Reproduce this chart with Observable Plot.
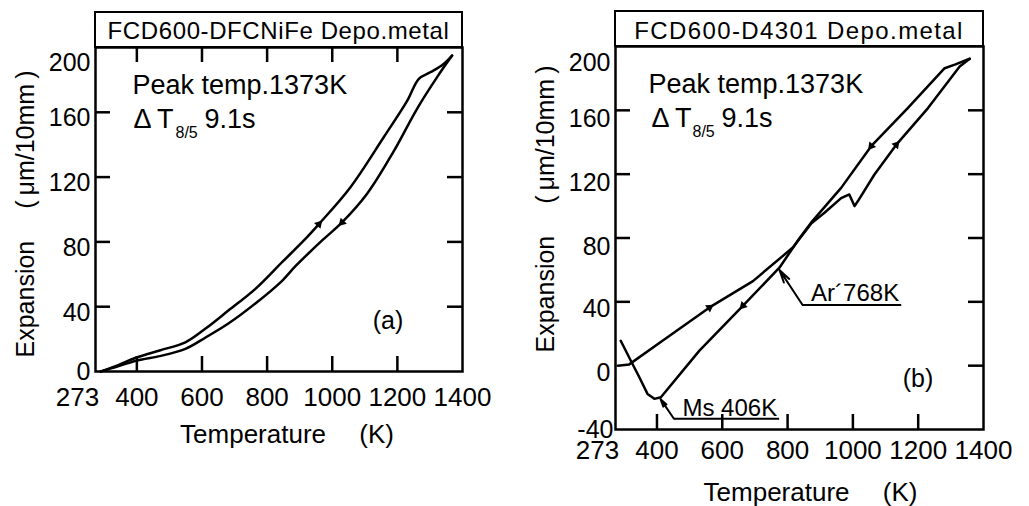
<!DOCTYPE html>
<html><head><meta charset="utf-8">
<script src="https://cdn.jsdelivr.net/npm/d3@7"></script>
<script src="https://cdn.jsdelivr.net/npm/@observablehq/plot@0.6"></script>
<style>
body{margin:0;background:#fff;width:1029px;height:506px;position:relative;overflow:hidden;font-family:"Liberation Sans",Arial,Helvetica,sans-serif;color:#000;}
.panel{position:absolute;top:0;height:506px;}
.title{position:absolute;box-sizing:border-box;border:2.5px solid #000;text-align:center;font-size:24px;white-space:nowrap;overflow:visible;}
.chart{position:absolute;left:0;}
</style></head><body>
<div id="pa" class="panel" style="left:0;width:515px;">
  <div id="ta" class="title" style="left:94px;top:11px;width:369px;height:37px;line-height:36px;letter-spacing:0.6px;"></div>
  <div id="ca" class="chart" style="top:45px;"></div>
</div>
<div id="pb" class="panel" style="left:520px;width:509px;">
  <div id="tb" class="title" style="left:94px;top:10px;width:370px;height:37px;line-height:38px;letter-spacing:1.4px;"></div>
  <div id="cb" class="chart" style="top:44px;"></div>
</div>
<script>
// ---------- data ----------
const titleA = "FCD600-DFCNiFe Depo.metal";
const titleB = "FCD600-D4301 Depo.metal";
const xTitle = "Temperature\u2003 (K)";
const yTitle = "Expansion\u2003 (\u2009\u03bcm/10mm\u2009)";
const peakText = "Peak temp.1373K";
const deltaText = "\u0394\u2009T";
const subText = "8/5";
const timeText = "9.1s";
const panelTagA = "(a)";
const panelTagB = "(b)";

const xTickLabels = [273, 400, 600, 800, 1000, 1200, 1400];
const xInnerTicks = [400, 600, 800, 1000, 1200];
const yTickLabelsA = [0, 40, 80, 120, 160, 200];
const yTickLabelsB = [-40, 0, 40, 80, 120, 160, 200];
const yInnerTicksA = [40, 80, 120, 160];
const yInnerTicksBLeft = [40, 80, 120, 160];
const yInnerTicksBRight = [0, 40, 80, 120, 160];

// (a) FCD600-DFCNiFe
const aUpperT = [290, 330, 401, 470, 549, 611, 681, 764, 846, 913, 959, 1056, 1158, 1230, 1266, 1301, 1340, 1368];
const aUpperE = [0, 3, 8.8, 13, 18, 26.5, 37.6, 51, 67.5, 80.9, 91, 113.8, 144.6, 167, 180.7, 184.7, 189.5, 195];
const aLowerT = [290, 330, 401, 470, 549, 611, 681, 764, 846, 887, 969, 1030, 1107, 1189, 1260, 1322, 1368];
const aLowerE = [0, 2.5, 6.8, 9.5, 14, 21, 29.6, 42, 56, 65, 80.9, 92, 109.7, 136, 162, 181.7, 195];
const aMarkT = [959, 1030];
const aMarkE = [91, 92];

// (b) FCD600-D4301
const bHeatT = [280, 315, 417, 561, 694, 816, 872, 913, 964, 989, 1005, 1015, 1066, 1133, 1230, 1327, 1358];
const bHeatE = [0, 0.8, 15.6, 36.5, 53, 74, 89, 95.8, 105, 107.3, 100, 103, 119.8, 138.5, 161.4, 187.5, 192.3];
const bCoolT = [1358, 1312, 1281, 1168, 1056, 964, 872, 837, 775, 663, 530, 412, 392, 371, 346, 320, 289];
const bCoolE = [192.3, 188.6, 186.4, 161.4, 137.5, 111.4, 89.6, 80, 61.4, 37.5, 9.4, -19.8, -20.8, -17.7, -7.3, 3.1, 15.6];
const bMarkT = [561, 1133, 663, 1056];
const bMarkE = [36.5, 138.5, 37.5, 137.5];

// annotations (b)
const arText = "Ar\u00b4768K";
const arTip = [775, 60];
const arElbow = [846, 38];
const arEnd = [1148, 38];
const arLabel = [872, 40.5];
const msText = "Ms 406K";
const msTip = [411, -21];
const msElbow = [452, -33.3];
const msEnd = [774, -33.3];
const msLabel = [478, -31.3];

// ---------- helpers ----------
const FONT = '"Liberation Sans", Arial, Helvetica, sans-serif';
const pts = (T, E) => T.map((t, i) => ({T: t, E: E[i]}));
const fmt = d => String(d);
const SW = 2.5, TICK = 15;

document.getElementById("ta").textContent = titleA;
document.getElementById("tb").textContent = titleB;

function commonMarks(pw, ph, o) {
  return [
    Plot.frame({stroke: "#000", strokeWidth: SW}),
    Plot.ruleX(xInnerTicks, {x: d => d, insetTop: ph - TICK, strokeWidth: SW, stroke: "#000"}),
    ...(o.topTicks ? [Plot.ruleX(xInnerTicks, {x: d => d, insetBottom: ph - TICK, strokeWidth: SW, stroke: "#000"})] : []),
    Plot.ruleY(o.leftTicks, {y: d => d, insetRight: pw - TICK, strokeWidth: SW, stroke: "#000"}),
    Plot.ruleY(o.rightTicks, {y: d => d, insetLeft: pw - TICK, strokeWidth: SW, stroke: "#000"}),
    Plot.axisX(xTickLabels.filter(v => v !== 273), {tickSize: 0, tickPadding: o.xPad, label: null, tickFormat: fmt, fontSize: 26}),
    Plot.axisX([273], {tickSize: 0, tickPadding: o.xPad, label: null, tickFormat: fmt, fontSize: 26, dx: -18}),
    Plot.text([xTitle], {frameAnchor: "bottom", dy: 71, dx: o.xTitleDx, lineAnchor: "bottom", textAnchor: "middle", fontSize: 26, text: d => d}),
    Plot.text([yTitle], {frameAnchor: "left", dx: -70, dy: o.yTitleDy, rotate: -90, lineAnchor: "middle", textAnchor: "middle", fontSize: 25, text: d => d}),
    Plot.text([peakText], {frameAnchor: "top-left", dx: o.peakDx, dy: 46, lineAnchor: "bottom", textAnchor: "start", fontSize: 27, text: d => d}),
    Plot.text([deltaText], {frameAnchor: "top-left", dx: o.deltaDx[0], dy: 80, lineAnchor: "bottom", textAnchor: "start", fontSize: 27, text: d => d}),
    Plot.text([subText], {frameAnchor: "top-left", dx: o.deltaDx[1], dy: 90, lineAnchor: "bottom", textAnchor: "start", fontSize: 16, text: d => d}),
    Plot.text([timeText], {frameAnchor: "top-left", dx: o.deltaDx[2], dy: 80, lineAnchor: "bottom", textAnchor: "start", fontSize: 27, text: d => d}),
    Plot.text([o.tag], {frameAnchor: "top-left", dx: o.tagPos[0], dy: o.tagPos[1], lineAnchor: "middle", textAnchor: "middle", fontSize: 25, text: d => d})
  ];
}

// ---------- panel (a) ----------
const pwA = 367, phA = 324;
const rotA = [42, 225];
const chartA = Plot.plot({
  width: 515, height: 461, marginLeft: 95, marginRight: 53, marginTop: 2, marginBottom: 135,
  x: {domain: [273, 1400]}, y: {domain: [0, 200]},
  style: {fontFamily: FONT, fontSize: "25px", color: "#000", background: "transparent", overflow: "visible"},
  marks: [
    ...commonMarks(pwA, phA, {topTicks: true, leftTicks: yInnerTicksA, rightTicks: yInnerTicksA, xPad: 16, xTitleDx: 8, yTitleDy: 4.5, peakDx: 37, deltaDx: [38, 80, 109], tag: panelTagA, tagPos: [292.5, 273.5]}),
    Plot.axisY(yTickLabelsA.filter(v => v === 0), {tickSize: 0, tickPadding: 5, label: null, tickFormat: fmt, fontSize: 25, dy: 0}),
    Plot.axisY(yTickLabelsA.filter(v => v > 0 && v < 200), {tickSize: 0, tickPadding: 5, label: null, tickFormat: fmt, fontSize: 25, dy: 6}),
    Plot.axisY(yTickLabelsA.filter(v => v === 200), {tickSize: 0, tickPadding: 5, label: null, tickFormat: fmt, fontSize: 25, dy: 15}),
    Plot.line(pts(aUpperT, aUpperE), {x: "T", y: "E", curve: "catmull-rom", stroke: "#000", strokeWidth: SW}),
    Plot.line(pts(aLowerT, aLowerE), {x: "T", y: "E", curve: "catmull-rom", stroke: "#000", strokeWidth: SW}),
    Plot.dot(pts(aMarkT, aMarkE), {x: "T", y: "E", symbol: "triangle", r: 3.2, fill: "#000", stroke: null, rotate: (d, i) => rotA[i]})
  ]
});
document.getElementById("ca").append(chartA);

// ---------- panel (b) ----------
const pwB = 368, phB = 383;
const rotB = [56, 41, 224, 219];
const chartB = Plot.plot({
  width: 509, height: 462, marginLeft: 95, marginRight: 46, marginTop: 2, marginBottom: 77,
  x: {domain: [273, 1400]}, y: {domain: [-40, 200]},
  style: {fontFamily: FONT, fontSize: "25px", color: "#000", background: "transparent", overflow: "visible"},
  marks: [
    ...commonMarks(pwB, phB, {topTicks: false, leftTicks: yInnerTicksBLeft, rightTicks: yInnerTicksBRight, xPad: 11, xTitleDx: 11, yTitleDy: -29, peakDx: 33, deltaDx: [36, 77, 106], tag: panelTagB, tagPos: [302.5, 332]}),
    Plot.axisY(yTickLabelsB.filter(v => v === -40), {tickSize: 0, tickPadding: 2, label: null, tickFormat: fmt, fontSize: 25, dy: 0}),
    Plot.axisY(yTickLabelsB.filter(v => v === 0 || v === 40), {tickSize: 0, tickPadding: 5, label: null, tickFormat: fmt, fontSize: 25, dy: 7}),
    Plot.axisY(yTickLabelsB.filter(v => v >= 80 && v < 200), {tickSize: 0, tickPadding: 5, label: null, tickFormat: fmt, fontSize: 25, dy: 9}),
    Plot.axisY(yTickLabelsB.filter(v => v === 200), {tickSize: 0, tickPadding: 5, label: null, tickFormat: fmt, fontSize: 25, dy: 16}),
    Plot.line(pts(bHeatT, bHeatE), {x: "T", y: "E", curve: "linear", stroke: "#000", strokeWidth: SW, strokeLinejoin: "round"}),
    Plot.line(pts(bCoolT, bCoolE), {x: "T", y: "E", curve: "linear", stroke: "#000", strokeWidth: SW, strokeLinejoin: "round"}),
    Plot.dot(pts(bMarkT, bMarkE), {x: "T", y: "E", symbol: "triangle", r: 3.2, fill: "#000", stroke: null, rotate: (d, i) => rotB[i]}),
    // Ar' annotation
    Plot.arrow([{x1: arElbow[0], y1: arElbow[1], x2: arTip[0], y2: arTip[1]}], {x1: "x1", y1: "y1", x2: "x2", y2: "y2", headLength: 10, headAngle: 28, strokeWidth: 2, stroke: "#000"}),
    Plot.link([{x1: arElbow[0], y1: arElbow[1], x2: arEnd[0], y2: arEnd[1]}], {x1: "x1", y1: "y1", x2: "x2", y2: "y2", strokeWidth: 2, stroke: "#000"}),
    Plot.text([{T: arLabel[0], E: arLabel[1], s: arText}], {x: "T", y: "E", text: "s", textAnchor: "start", lineAnchor: "bottom", fontSize: 24}),
    // Ms annotation
    Plot.arrow([{x1: msElbow[0], y1: msElbow[1], x2: msTip[0], y2: msTip[1]}], {x1: "x1", y1: "y1", x2: "x2", y2: "y2", headLength: 10, headAngle: 28, strokeWidth: 2, stroke: "#000"}),
    Plot.link([{x1: msElbow[0], y1: msElbow[1], x2: msEnd[0], y2: msEnd[1]}], {x1: "x1", y1: "y1", x2: "x2", y2: "y2", strokeWidth: 2, stroke: "#000"}),
    Plot.text([{T: msLabel[0], E: msLabel[1], s: msText}], {x: "T", y: "E", text: "s", textAnchor: "start", lineAnchor: "bottom", fontSize: 24})
  ]
});
document.getElementById("cb").append(chartB);
</script>
</body></html>
